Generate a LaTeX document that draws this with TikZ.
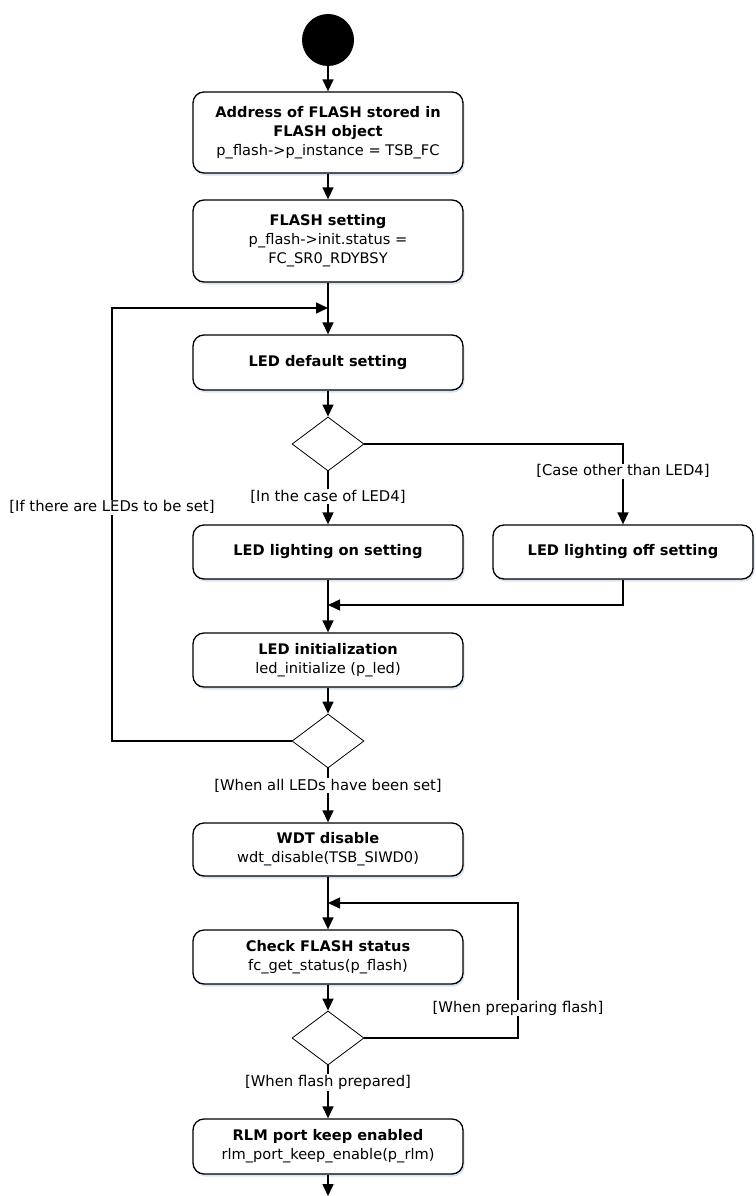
\documentclass[tikz,border=0pt]{standalone}
\usepackage{fontspec}
\setmainfont{DejaVu Sans}
\usetikzlibrary{arrows.meta,shapes.geometric,shadows,positioning}
\definecolor{ombre}{RGB}{214,228,245}
\tikzset{
  action/.style={draw, line width=1.3pt, rounded corners=11pt, fill=white, align=center,
    minimum width=270pt, inner sep=2pt, font=\fontsize{14.6}{19}\selectfont,
    drop shadow={fill=ombre, opacity=1, shadow xshift=1.5pt, shadow yshift=-2.5pt}},
  choix/.style={draw, diamond, minimum width=72pt, minimum height=54pt, inner sep=0pt, line width=0.8pt},
  fleche/.style={line width=1.5pt, -{Triangle[length=12pt,width=11pt]}},
  garde/.style={fill=white, inner sep=1pt, font=\fontsize{14.8}{17}\selectfont},
}
\begin{document}
\begin{tikzpicture}[x=1pt,y=-1pt]
  \pgfmathsetmacro{\xc}{328}
  \pgfmathsetmacro{\xg}{112}
  \pgfmathsetmacro{\xd}{518}
  \useasboundingbox (0,0) rectangle (755,1196);
  \node[circle, fill, minimum size=52pt, inner sep=0pt] (debut) at (\xc,40) {};
  \node[action, minimum height=81pt] (adresse) at (\xc,132.5)
    {\textbf{Address of FLASH stored in}\\\textbf{FLASH object}\\p\_flash->p\_instance = TSB\_FC};
  \node[action, minimum height=82pt] (flashreg) at (\xc,241)
    {\textbf{FLASH setting}\\p\_flash->init.status =\\FC\_SR0\_RDYBSY};
  \node[action, minimum height=55pt] (leddef) at (\xc,362.5) {\textbf{LED default setting}};
  \node[choix] (choix1) at (\xc,444) {};
  \node[action, minimum height=54pt] (ledon) at (\xc,552) {\textbf{LED lighting on setting}};
  \node[action, minimum height=54pt, minimum width=260pt] (ledoff) at (623,552) {\textbf{LED lighting off setting}};
  \node[action, minimum height=54pt] (ledinit) at (\xc,660)
    {\textbf{LED initialization}\\led\_initialize (p\_led)};
  \node[choix] (choix2) at (\xc,741) {};
  \node[action, minimum height=53pt] (wdt) at (\xc,849.5)
    {\textbf{WDT disable}\\wdt\_disable(TSB\_SIWD0)};
  \node[action, minimum height=54pt] (check) at (\xc,957)
    {\textbf{Check FLASH status}\\fc\_get\_status(p\_flash)};
  \node[choix] (choix3) at (\xc,1038) {};
  \node[action, minimum height=55pt] (rlm) at (\xc,1146.5)
    {\textbf{RLM port keep enabled}\\rlm\_port\_keep\_enable(p\_rlm)};
  \coordinate (boucle1) at (\xc,308);
  \coordinate (fusion) at (\xc,605);
  \coordinate (boucle2) at (\xc,903);
  \coordinate (fin) at (\xc,1196);
  \draw[fleche] (debut) -- (adresse);
  \draw[fleche] (adresse) -- (flashreg);
  \draw[fleche] (flashreg) -- (leddef);
  \draw[fleche] (leddef) -- (choix1);
  \draw[fleche] (choix1) -- node[garde, pos=0.48] {[In the case of LED4]} (ledon);
  \draw[fleche] (choix1.east) -| node[garde, pos=0.67] {[Case other than LED4]} (ledoff);
  \draw[fleche] (ledoff) |- (fusion);
  \draw[fleche] (ledon) -- (ledinit);
  \draw[fleche] (ledinit) -- (choix2);
  \draw[fleche] (choix2.west) -- (\xg,741) |- node[garde, pos=0.27] {[If there are LEDs to be set]} (boucle1);
  \draw[fleche] (choix2) -- node[garde, pos=0.32] {[When all LEDs have been set]} (wdt);
  \draw[fleche] (wdt) -- (check);
  \draw[fleche] (check) -- (choix3);
  \draw[fleche] (choix3.east) -- (\xd,1038) |- node[garde, pos=0.11] {[When preparing flash]} (boucle2);
  \draw[fleche] (choix3) -- node[garde, pos=0.32] {[When flash prepared]} (rlm);
  \draw[fleche] (rlm) -- (fin);
\end{tikzpicture}
\end{document}
